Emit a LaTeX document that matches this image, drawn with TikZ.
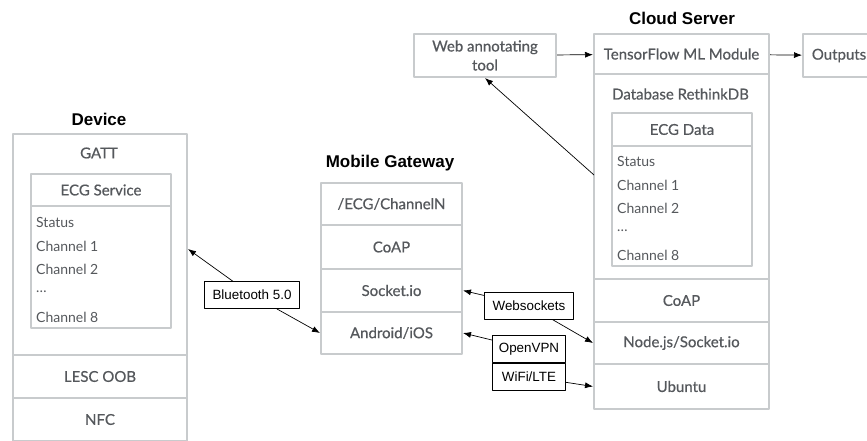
\documentclass[tikz,border=0pt]{standalone}
\usepackage{fontspec}
\setmainfont{Lato}
\newfontfamily\helv{Liberation Sans}
\newfontface\lmed{Lato}[FakeBold=0.6]
\usetikzlibrary{positioning,arrows.meta}
\definecolor{boxgray}{RGB}{200,203,205}
\definecolor{txtgray}{RGB}{85,88,92}
\tikzset{
  layer/.style={draw=boxgray, line width=2pt, anchor=north west, inner sep=0pt, text=txtgray, font=\lmed\fontsize{15}{17}\selectfont},
  item/.style={anchor=west, inner sep=0pt, text=txtgray, font=\fontsize{14}{16}\selectfont},
  heading/.style={font=\helv\bfseries\fontsize{17}{19}\selectfont, inner sep=0pt},
  tag/.style={draw=black, line width=0.6pt, fill=white, font=\helv\fontsize{13.4}{15}\selectfont, inner sep=0pt, minimum height=27pt},
  link/.style={-{Latex[length=8pt,width=6pt]}, line width=0.7pt}
}
\begin{document}
\begin{tikzpicture}[x=1pt, y=-1pt, line join = round]
\useasboundingbox (0,0) rectangle (867,441);

% device
\node[heading] (devtitle) at (99,119) {Device};
\node[layer, minimum width=174pt, minimum height=221pt] (gatt) at (12,133) {};
\node[layer, minimum width=174pt, minimum height=43pt] (lesc) at (12,354) {LESC OOB};
\node[layer, minimum width=174pt, minimum height=43pt] (nfc) at (12,397) {NFC};
\node[text=txtgray, font=\lmed\fontsize{15}{17}\selectfont] (gatttext) at (99,153) {GATT};
\node[layer, minimum width=140pt, minimum height=32pt] (ecgsvc) at (30,173) {ECG Service};
\node[layer, minimum width=140pt, minimum height=122pt] (ecglist) at (30,205) {};
\node[item] (dstatus) at (36,222) {Status};
\node[item] (dch1) at (36,246) {Channel 1};
\node[item] (dch2) at (36,269) {Channel 2};
\node[item] (ddots) at (36,292) {\dots};
\node[item] (dch8) at (36,317) {Channel 8};

% mobile gateway
\node[heading] (gwtitle) at (390,163) {Mobile Gateway};
\node[layer, minimum width=141pt, minimum height=42pt] (chan) at (320,182) {/ECG/ChannelN};
\node[layer, minimum width=141pt, minimum height=44pt] (gwcoap) at (320,224) {CoAP};
\node[layer, minimum width=141pt, minimum height=43pt] (sock) at (320,268) {Socket.io};
\node[layer, minimum width=141pt, minimum height=42pt] (andr) at (320,311) {Android/iOS};

% cloud server
\node[heading] (cstitle) at (682,18) {Cloud Server};
\node[layer, minimum width=175pt, minimum height=40pt] (tf) at (593,33) {TensorFlow ML Module};
\node[layer, minimum width=175pt, minimum height=205pt] (db) at (593,73) {};
\node[text=txtgray, font=\lmed\fontsize{15}{17}\selectfont] (dbtext) at (680.5,94) {Database RethinkDB};
\node[layer, minimum width=140pt, minimum height=33pt] (ecgdata) at (611,112) {ECG Data};
\node[layer, minimum width=140pt, minimum height=120pt] (datalist) at (611,145) {};
\node[item] (cstatus) at (617,161) {Status};
\node[item] (cch1) at (617,185) {Channel 1};
\node[item] (cch2) at (617,208) {Channel 2};
\node[item] (cdots) at (617,231) {\dots};
\node[item] (cch8) at (617,255) {Channel 8};
\node[layer, minimum width=175pt, minimum height=43pt] (cscoap) at (593,278) {CoAP};
\node[layer, minimum width=175pt, minimum height=42pt] (nodejs) at (593,321) {Node.js/Socket.io};
\node[layer, minimum width=175pt, minimum height=45pt] (ubuntu) at (593,363) {Ubuntu};

% side boxes
\node[layer, minimum width=142pt, minimum height=43pt, align=center, font=\lmed\fontsize{15}{19}\selectfont] (webtool) at (413,33) {Web annotating\\tool};
\node[layer, minimum width=72pt, minimum height=43pt] (outputs) at (802,33) {Outputs};

% connector labels
\node[tag, minimum width=95pt] (bt) at (252,295) {Bluetooth 5.0};
\node[tag, minimum width=89pt] (ws) at (529,306) {Websockets};
\node[tag, minimum width=73pt] (vpn) at (529,349) {OpenVPN};
\node[tag, minimum width=73pt, below=0pt of vpn] (wifi) {WiFi/LTE};

\coordinate (devport) at (188,249);
\coordinate (cloudport) at (594,175);

% connectors
\draw[link] (bt) -- (devport);
\draw[link] (bt) -- (andr.west);
\draw[link] (ws) -- (sock.east);
\draw[link] (ws) -- (nodejs.west);
\draw[link] (vpn) -- (andr.east);
\draw[link] (wifi) -- (ubuntu.west);
\draw[link] (webtool) -- (tf);
\draw[link] (tf) -- (outputs);
\draw[link] (cloudport) -- (webtool.south);
\end{tikzpicture}
\end{document}
